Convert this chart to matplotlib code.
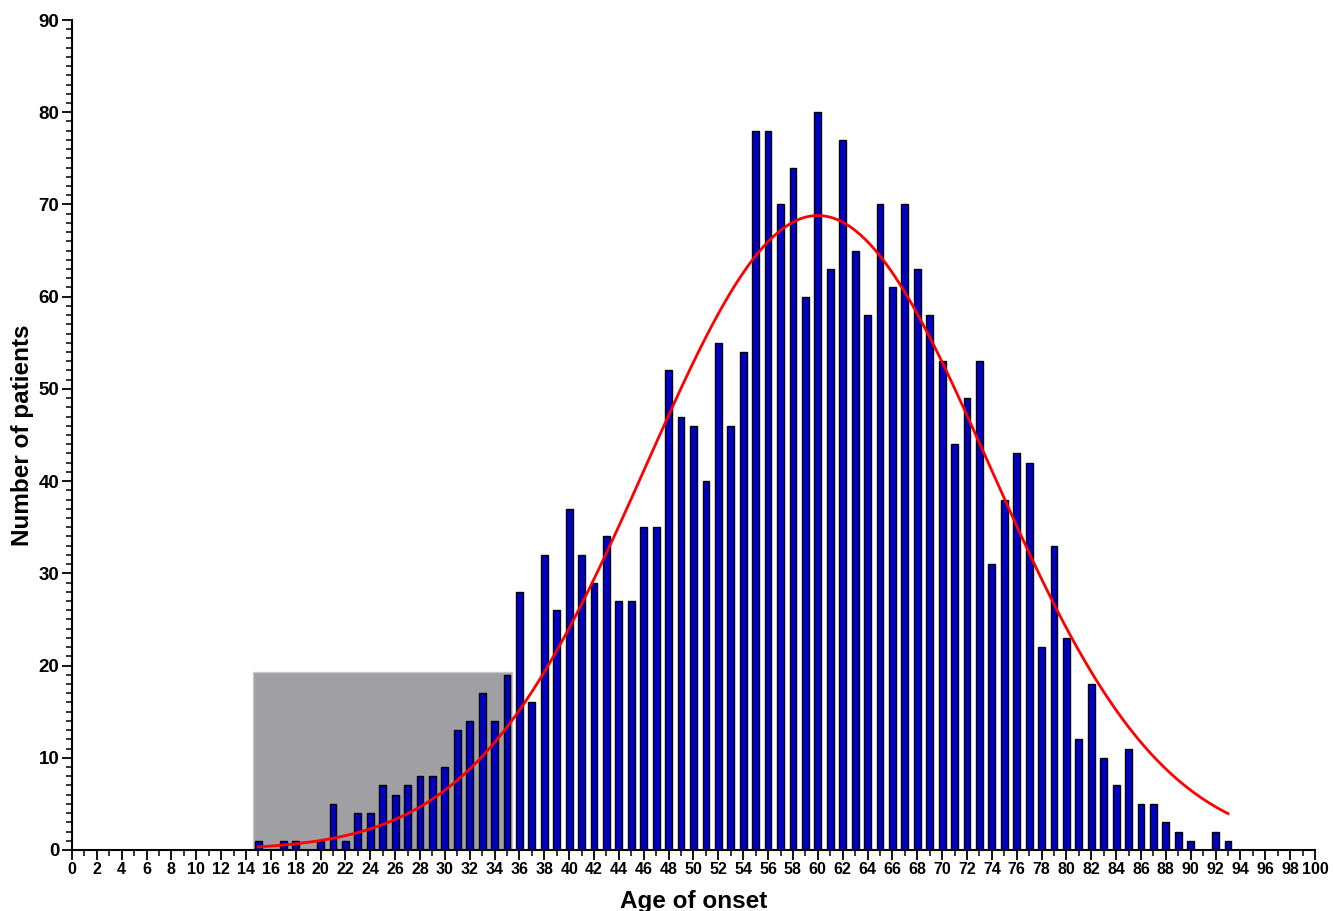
import numpy as np
import matplotlib
matplotlib.use('Agg')
import matplotlib.pyplot as plt
from matplotlib.ticker import MultipleLocator
from matplotlib.patches import Rectangle

# age of onset (years) and number of patients
ages = list(range(15, 94))
counts = [1, 0, 1, 1, 0, 1, 5, 1, 4, 4,
          7, 6, 7, 8, 8, 9, 13, 14, 17, 14,
          19, 28, 16, 32, 26, 37, 32, 29, 34, 27,
          27, 35, 35, 52, 47, 46, 40, 55, 46, 54,
          78, 78, 70, 74, 60, 80, 63, 77, 65, 58,
          70, 61, 70, 63, 58, 53, 44, 49, 53, 31,
          38, 43, 42, 22, 33, 23, 12, 18, 10, 7,
          11, 5, 5, 3, 2, 1, 0, 2, 1]

# gaussian fit drawn over the histogram
fit_amp = 68.8
fit_mean = 60.0
fit_sd = 13.8
fit_range = (15, 93)

# shaded early-onset region
shade_x = (14.6, 35.4)
shade_top = 19.3

plt.rcParams['font.family'] = ['Liberation Sans', 'DejaVu Sans']
plt.rcParams['font.weight'] = 'bold'
plt.rcParams['xtick.labelsize'] = 11.5
plt.rcParams['ytick.labelsize'] = 13.5

fig = plt.figure(figsize=(13.33, 9.11), dpi=100)
ax = fig.add_axes([0.054, 0.067, 0.9325, 0.911])

ax.add_patch(Rectangle((shade_x[0], 0), shade_x[1] - shade_x[0], shade_top,
                       facecolor='#a09fa4', edgecolor='#c8c8c8', lw=1, zorder=1))

ax.bar(ages, counts, width=0.55, color='#0000c4', edgecolor='black',
       linewidth=1.0, zorder=2)

xf = np.linspace(fit_range[0], fit_range[1], 400)
yf = fit_amp * np.exp(-(xf - fit_mean) ** 2 / (2 * fit_sd ** 2))
ax.plot(xf, yf, color='#ff0000', lw=2, zorder=3)

ax.set_xlim(0, 100)
ax.set_ylim(0, 90)
ax.spines['top'].set_visible(False)
ax.spines['right'].set_visible(False)
ax.spines['left'].set_linewidth(1.5)
ax.spines['bottom'].set_linewidth(1.5)

ax.xaxis.set_major_locator(MultipleLocator(2))
ax.xaxis.set_minor_locator(MultipleLocator(1))
ax.yaxis.set_major_locator(MultipleLocator(10))
ax.yaxis.set_minor_locator(MultipleLocator(1))
ax.tick_params(which='major', length=7, width=1.3, pad=2)
ax.tick_params(which='minor', length=4, width=1.1)

ax.set_xlabel('Age of onset', fontsize=17.5, fontweight='bold', labelpad=9)
ax.set_ylabel('Number of patients', fontsize=17.5, fontweight='bold', labelpad=3)

fig.savefig('out.png', dpi=100)
